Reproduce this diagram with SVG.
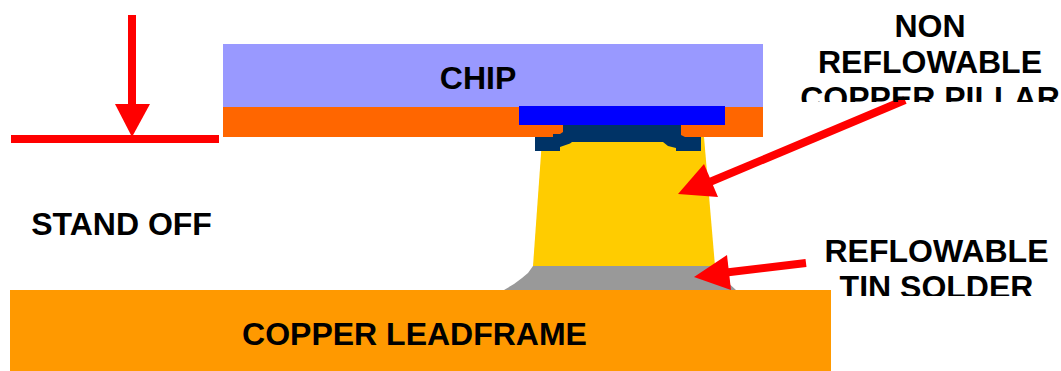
<svg xmlns="http://www.w3.org/2000/svg" width="1061" height="371" viewBox="0 0 1061 371">
<style>
text{font-family:"Liberation Sans",Arial,sans-serif;font-weight:700;font-size:32px;fill:#000;text-anchor:middle}
.red{fill:#f00}
</style>
<defs>
<clipPath id="clipPillar"><rect x="780" y="0" width="281" height="102"/></clipPath>
<clipPath id="clipSolder"><rect x="780" y="225" width="281" height="71"/></clipPath>
</defs>
<rect width="1061" height="371" fill="#fff"/>
<g id="chip"><rect x="223" y="44" width="540" height="63" fill="#9999ff"/><text x="478" y="88.500">CHIP</text></g>
<g id="passivation"><rect x="223" y="107" width="540" height="30" fill="#ff6600"/></g>
<g id="pillar"><path d="M542 140L704 137L715 266H533Z" fill="#ffcc00"/></g>
<g id="pad"><rect x="519" y="106" width="206" height="19" fill="#0000ff"/></g>
<g id="ubm"><path d="M563 125H681V135L685 137H701V151H676V148L668 146L663 142H572L570 143.500L560 147V151H535V137H553V134H560L563 132Z" fill="#003366"/></g>
<g id="solder"><path d="M533 266H715L724 279L736 290H504L514 284L522 278L528 273Z" fill="#999999"/></g>
<g id="leadframe"><rect x="10" y="290" width="821" height="81" fill="#ff9900"/><text x="414.500" y="344.500">COPPER LEADFRAME</text></g>
<g id="connectors">
<rect class="red" x="11" y="135" width="208" height="8"/>
<rect class="red" x="128" y="15" width="8" height="90"/>
<polygon class="red" points="115,104 150,104 132,137"/>
<path d="M905 100L705 184" stroke="#f00" stroke-width="8" fill="none"/>
<polygon class="red" points="678,194 704,164 718,197"/>
<path d="M806 263L722 273" stroke="#f00" stroke-width="8" fill="none"/>
<polygon class="red" points="694,277 727,255 731,290"/>
</g>
<g id="label-standoff"><text x="121.500" y="234.500">STAND OFF</text></g>
<g id="label-pillar" clip-path="url(#clipPillar)">
<text x="930" y="36.500">NON</text><text x="930" y="72.500">REFLOWABLE</text><text x="930" y="108.500">COPPER PILLAR</text>
</g>
<g id="label-solder" clip-path="url(#clipSolder)">
<text x="936.500" y="261.500">REFLOWABLE</text><text x="936.500" y="298">TIN SOLDER</text>
</g>
</svg>
